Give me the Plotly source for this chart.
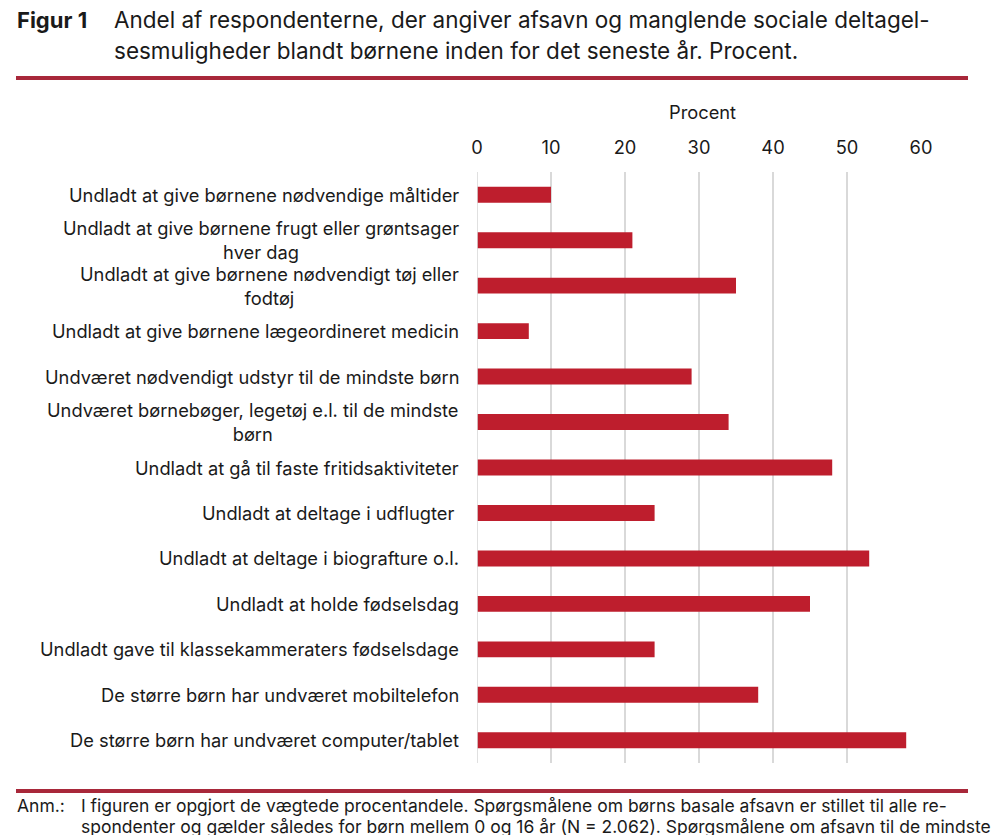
import plotly.graph_objects as go

W, H = 993, 835

categories = [
    "Undladt at give børnene nødvendige måltider",
    "Undladt at give børnene frugt eller grøntsager<br>hver dag",
    "Undladt at give børnene nødvendigt tøj eller<br>fodtøj",
    "Undladt at give børnene lægeordineret medicin",
    "Undværet nødvendigt udstyr til de mindste børn",
    "Undværet børnebøger, legetøj e.l. til de mindste<br>børn",
    "Undladt at gå til faste fritidsaktiviteter",
    "Undladt at deltage i udflugter\u00a0",
    "Undladt at deltage i biografture o.l.",
    "Undladt at holde fødselsdag",
    "Undladt gave til klassekammeraters fødselsdage",
    "De større børn har undværet mobiltelefon",
    "De større børn har undværet computer/tablet",
]
values = [10, 21, 35, 7, 29, 34, 48, 24, 53, 45, 24, 38, 58]
x_ticks = [0, 10, 20, 30, 40, 50, 60]

BAR = "#be1e2d"
RULE = "#a8283a"
TXT = "#1a1a1a"
FONT = "Inter"
LBL = 18.3

# plot area in pixels
px_l, px_r, px_t, px_b = 477, 921, 172, 763

fig = go.Figure()
fig.add_trace(go.Bar(
    x=values, y=list(range(len(categories))), orientation="h",
    marker=dict(color=BAR, line=dict(width=0)), width=0.35,
    hoverinfo="x",
))

fig.update_layout(
    width=W, height=H,
    margin=dict(l=0, r=0, t=0, b=0),
    paper_bgcolor="white", plot_bgcolor="white",
    showlegend=False,
    font=dict(family=FONT, size=LBL, color=TXT),
    xaxis=dict(
        domain=[px_l / W, px_r / W], side="top", range=[0, 60],
        tickvals=x_ticks, ticktext=[str(t) for t in x_ticks],
        showgrid=True, gridcolor="#d9d9d9", gridwidth=1.6,
        zeroline=False, showline=False, ticks="",
        ticklabelstandoff=13, automargin=False, fixedrange=True,
        tickfont=dict(family=FONT, size=LBL, color=TXT),
    ),
    yaxis=dict(
        domain=[1 - px_b / H, 1 - px_t / H], range=[len(categories) - 0.5, -0.5],
        showticklabels=False, showgrid=False, zeroline=False, showline=False,
        automargin=False, fixedrange=True,
    ),
)

# vertical line at 0 like gridline
fig.add_shape(type="line", xref="x", yref="paper", x0=0, x1=0,
              y0=1 - px_b / H, y1=1 - px_t / H,
              line=dict(color="#d9d9d9", width=1.6))

# category labels (centered multi-line, right-aligned box)
for i, c in enumerate(categories):
    fig.add_annotation(text=c, xref="paper", yref="y", x=461 / W, y=i,
                       xanchor="right", yanchor="middle", align="center",
                       showarrow=False, font=dict(family=FONT, size=LBL, color=TXT))

# axis title
fig.add_annotation(text="Procent", xref="paper", yref="paper",
                   x=((px_l + px_r) / 2 + 3) / W, y=1 - 112 / H,
                   xanchor="center", yanchor="middle", showarrow=False,
                   font=dict(family=FONT, size=LBL, color=TXT))

# title
TS = 22.5
fig.add_annotation(text="<b>Figur 1</b>", xref="paper", yref="paper",
                   x=15 / W, y=1 - 20 / H, xanchor="left", yanchor="middle",
                   showarrow=False, font=dict(family=FONT, size=TS - 0.5, color=TXT))
fig.add_annotation(text="Andel af respondenterne, der angiver afsavn og manglende sociale deltagel-",
                   xref="paper", yref="paper", x=112 / W, y=1 - 20 / H,
                   xanchor="left", yanchor="middle", showarrow=False,
                   font=dict(family=FONT, size=TS, color=TXT))
fig.add_annotation(text="sesmuligheder blandt børnene inden for det seneste år. Procent.",
                   xref="paper", yref="paper", x=112 / W, y=1 - 50 / H,
                   xanchor="left", yanchor="middle", showarrow=False,
                   font=dict(family=FONT, size=TS, color=TXT))

# rules
for yy in (78, 791):
    fig.add_shape(type="line", xref="paper", yref="paper",
                  x0=16 / W, x1=968 / W, y0=1 - yy / H, y1=1 - yy / H,
                  line=dict(color=RULE, width=4))

# footnote
FS = 17.5
fig.add_annotation(text="Anm.:", xref="paper", yref="paper", x=15 / W, y=1 - 805 / H,
                   xanchor="left", yanchor="middle", showarrow=False,
                   font=dict(family=FONT, size=FS, color=TXT))
fig.add_annotation(text="I figuren er opgjort de vægtede procentandele. Spørgsmålene om børns basale afsavn er stillet til alle re-",
                   xref="paper", yref="paper", x=79 / W, y=1 - 805 / H,
                   xanchor="left", yanchor="middle", showarrow=False,
                   font=dict(family=FONT, size=FS, color=TXT))
fig.add_annotation(text="spondenter og gælder således for børn mellem 0 og 16 år (N = 2.062). Spørgsmålene om afsavn til de mindste",
                   xref="paper", yref="paper", x=79 / W, y=1 - 826 / H,
                   xanchor="left", yanchor="middle", showarrow=False,
                   font=dict(family=FONT, size=FS, color=TXT))

fig.write_html("out.html", config={"displayModeBar": False},
               post_script="document.body.style.margin='0';document.body.style.overflow='hidden';")
